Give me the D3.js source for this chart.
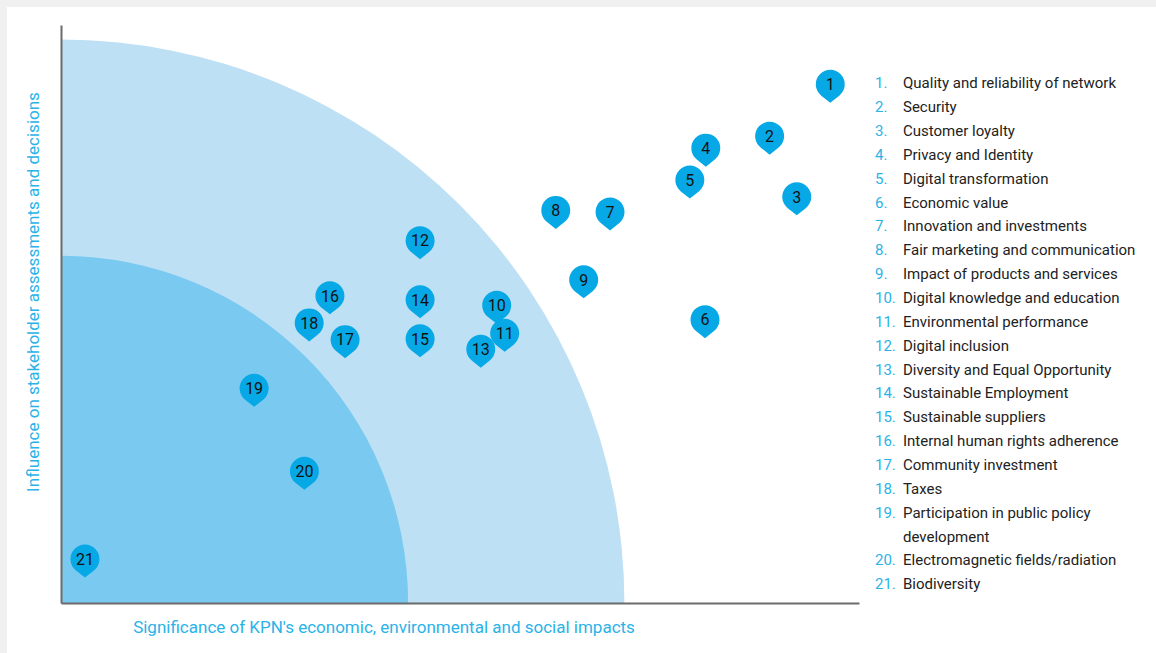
<!DOCTYPE html>
<html>
<head>
<meta charset="utf-8">
<script src="https://cdn.jsdelivr.net/npm/d3@7"></script>
<style>
  html, body { margin: 0; padding: 0; background: #f0f0f0; }
  svg { display: block; }
</style>
</head>
<body>
<svg id="chart" width="1156" height="653"></svg>
<script>
// ---- data ----
const topicIds = [1,2,3,4,5,6,7,8,9,10,11,12,13,14,15,16,17,18,19,20,21];
const topicLabels = [
  "Quality and reliability of network",
  "Security",
  "Customer loyalty",
  "Privacy and Identity",
  "Digital transformation",
  "Economic value",
  "Innovation and investments",
  "Fair marketing and communication",
  "Impact of products and services",
  "Digital knowledge and education",
  "Environmental performance",
  "Digital inclusion",
  "Diversity and Equal Opportunity",
  "Sustainable Employment",
  "Sustainable suppliers",
  "Internal human rights adherence",
  "Community investment",
  "Taxes",
  "Participation in public policy development",
  "Electromagnetic fields/radiation",
  "Biodiversity"
];
// significance (x) and influence (y)
const significance = [9.64, 8.88, 9.22, 8.08, 7.88, 8.07, 6.88, 6.20, 6.55, 5.46, 5.56, 4.50, 5.26, 4.50, 4.50, 3.37, 3.56, 3.11, 2.42, 3.05, 0.30];
const influence    = [6.50, 5.85, 5.09, 5.70, 5.30, 3.55, 4.90, 4.92, 4.05, 3.73, 3.38, 4.54, 3.18, 3.80, 3.31, 3.85, 3.30, 3.51, 2.69, 1.65, 0.55];
// materiality zones (radius in data units, outer first)
const zoneRadii = [7.06, 4.35];
const zoneColors = ["#bee0f5", "#7ac9f1"];
const xAxisTitle = "Significance of KPN's economic, environmental and social impacts";
const yAxisTitle = "Influence on stakeholder assessments and decisions";

// ---- layout ----
const svg = d3.select("#chart");
svg.append("rect").attr("x", 7).attr("y", 7).attr("width", 1149).attr("height", 646).attr("fill", "#ffffff");

const x = d3.scaleLinear().domain([0, 10]).range([61, 859]);
const y = d3.scaleLinear().domain([0, 7.243]).range([603, 25]);

const plot = svg.append("g");

// zones (quarter ellipses anchored at origin)
zoneRadii.forEach((r, i) => {
  const cx = x(0), cy = y(0);
  const rx = x(r) - x(0), ry = y(0) - y(r);
  const d = `M${cx},${cy} L${cx},${cy - ry} A${rx},${ry} 0 0 1 ${cx + rx},${cy} Z`;
  plot.append("path").attr("d", d).attr("fill", zoneColors[i]);
});

// axes
const xAxis = d3.axisBottom(x).tickValues([]).tickSize(0).tickSizeOuter(0);
const yAxis = d3.axisLeft(y).tickValues([]).tickSize(0).tickSizeOuter(0);
const gx = svg.append("g").attr("transform", `translate(0,${y(0)})`).call(xAxis);
const gy = svg.append("g").attr("transform", `translate(${x(0)},0)`).call(yAxis);
[gx, gy].forEach(g => g.select(".domain").attr("stroke", "#6b6b6b").attr("stroke-width", 2));

// axis titles
svg.append("text")
  .attr("x", 384).attr("y", 633)
  .attr("text-anchor", "middle")
  .attr("fill", "#2ab3e8")
  .style("font-family", "Roboto, 'Open Sans', sans-serif")
  .style("font-size", "17px")
  .text(xAxisTitle);
svg.append("text")
  .attr("transform", "translate(39,292) rotate(-90)")
  .attr("text-anchor", "middle")
  .attr("fill", "#2ab3e8")
  .style("font-family", "Roboto, 'Open Sans', sans-serif")
  .style("font-size", "17px")
  .text(yAxisTitle);

// pin markers
const pinR = 14.5, tip = 18.5;
const ang = Math.acos(pinR / tip);
const tx = pinR * Math.sin(ang), ty = pinR * Math.cos(ang);
const pinPath = `M0,${tip} L${-tx},${ty} A${pinR},${pinR} 0 1 1 ${tx},${ty} Z`;

const pts = topicIds.map((id, i) => ({ id, sx: significance[i], iy: influence[i] }));
const pins = svg.append("g").selectAll("g.pin").data(pts).join("g")
  .attr("class", "pin")
  .attr("transform", d => `translate(${x(d.sx)},${y(d.iy)})`);
pins.append("path").attr("d", pinPath).attr("fill", "#07a8e6");
pins.append("text")
  .attr("text-anchor", "middle")
  .attr("dy", "0.36em")
  .attr("fill", "#111")
  .style("font-family", "Roboto, sans-serif")
  .style("font-size", "16px")
  .text(d => d.id);

// legend
const legX = 875, legTextX = 903, legY0 = 83, legStep = 23.86, wrapW = 245;
const leg = svg.append("g")
  .style("font-family", "Roboto, 'Open Sans', sans-serif")
  .style("font-size", "15px");
let row = 0;
topicIds.forEach((id, i) => {
  const yy = legY0 + row * legStep;
  leg.append("text").attr("x", legX).attr("y", yy).attr("dy", "0.35em")
    .attr("fill", "#2ab3e8").text(id + ".");
  const words = topicLabels[i].split(" ");
  let line = [];
  let t = leg.append("text").attr("x", legTextX).attr("y", yy).attr("dy", "0.35em").attr("fill", "#222");
  words.forEach(w => {
    line.push(w);
    t.text(line.join(" "));
    if (t.node().getComputedTextLength() > wrapW && line.length > 1) {
      line.pop();
      t.text(line.join(" "));
      line = [w];
      row++;
      t = leg.append("text").attr("x", legTextX).attr("y", legY0 + row * legStep)
        .attr("dy", "0.35em").attr("fill", "#222").text(w);
    }
  });
  row++;
});
</script>
</body>
</html>
